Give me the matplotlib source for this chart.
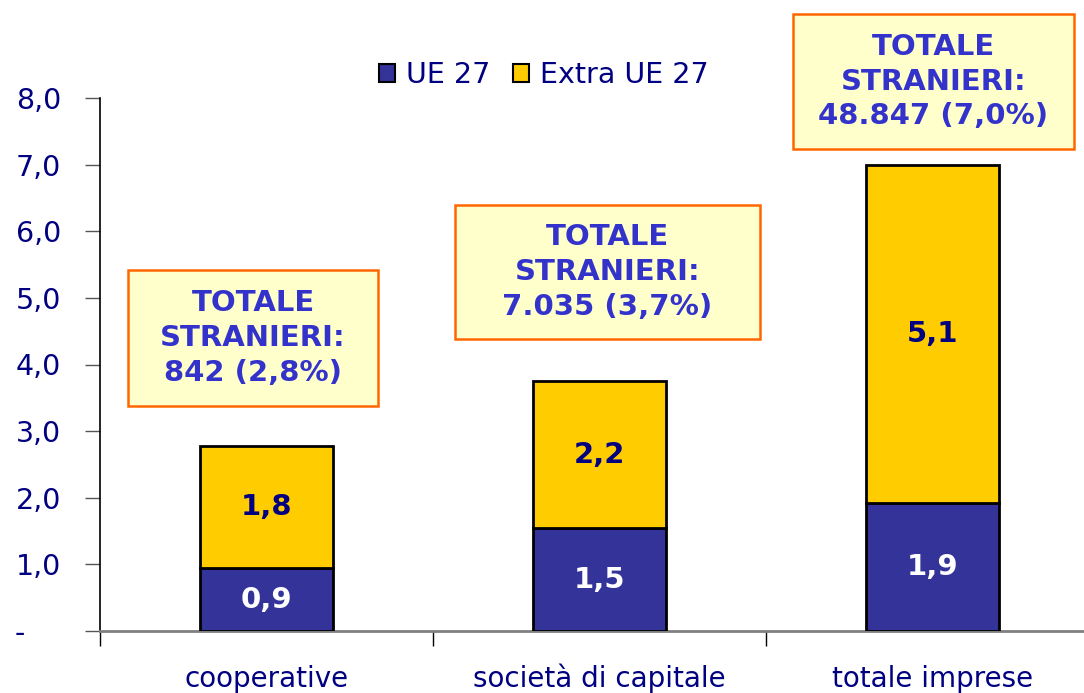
import matplotlib
matplotlib.use("Agg")
import matplotlib.pyplot as plt
from matplotlib.patches import Patch, Rectangle

categories = ["cooperative", "società di capitale", "totale imprese"]
ue27 = [0.94, 1.54, 1.92]
extra_ue27 = [1.84, 2.21, 5.08]
box_texts = ["TOTALE\nSTRANIERI:\n842 (2,8%)",
             "TOTALE\nSTRANIERI:\n7.035 (3,7%)",
             "TOTALE\nSTRANIERI:\n48.847 (7,0%)"]
yticks = [0, 1, 2, 3, 4, 5, 6, 7, 8]
ytick_labels = ["-    ", "1,0", "2,0", "3,0", "4,0", "5,0", "6,0", "7,0", "8,0"]

NAVY = "#000080"
BLUE = "#333399"
GOLD = "#FFCC00"
BOXTXT = "#3333CC"

plt.rcParams['font.family'] = ['DejaVu Sans']
fig = plt.figure(figsize=(10.84, 6.93), dpi=100)
W, H = 1084, 693
# axes: x from 100 px to 1099 px, y from 631 (0) to 98 (8)
ax = fig.add_axes([100 / W, (H - 631) / H, 999 / W, 533 / H])
x = list(range(len(categories)))
bw = 0.4
b1 = ax.bar(x, ue27, bw, color=BLUE, edgecolor="black", linewidth=2, zorder=3)
b2 = ax.bar(x, extra_ue27, bw, bottom=ue27, color=GOLD, edgecolor="black",
            linewidth=2, zorder=3)

for i in x:
    ax.text(i, ue27[i] / 2, f"{ue27[i]:.1f}".replace(".", ","), ha="center",
            va="center", color="white", fontsize=21, fontweight="bold", zorder=4)
    ax.text(i, ue27[i] + extra_ue27[i] / 2, f"{extra_ue27[i]:.1f}".replace(".", ","),
            ha="center", va="center", color=NAVY, fontsize=21, fontweight="bold",
            zorder=4)

ax.set_xlim(-0.5, 2.5)
ax.set_ylim(0, 8)
ax.set_yticks(yticks)
ax.set_yticklabels(ytick_labels, color=NAVY, fontsize=20.5)
ax.tick_params(axis="y", length=11, width=1, color="#555555", pad=17)
ax.set_xticks([-0.5, 0.5, 1.5], minor=True)
ax.set_xticks(x)
ax.set_xticklabels(categories, color=NAVY, fontsize=20, va="baseline")
ax.tick_params(axis="x", which="major", length=0, pad=40)
ax.tick_params(axis="x", which="minor", length=11, width=1, color="black")
for s in ["top", "right"]:
    ax.spines[s].set_visible(False)
ax.spines["left"].set_color("black")
ax.spines["left"].set_linewidth(1.2)
ax.spines["bottom"].set_color("#808080")
ax.spines["bottom"].set_linewidth(2)

# annotation boxes: (left, top, right, bottom) in pixels
box_px = [(128, 270, 378, 406), (455, 205, 760, 339), (793, 14, 1074, 149)]
for (l, t, r, b), txt in zip(box_px, box_texts):
    fig.patches.append(Rectangle((l / W, 1 - b / H), (r - l) / W, (b - t) / H,
                                 transform=fig.transFigure, facecolor="#FFFFCC",
                                 edgecolor="#FF6600", linewidth=1.8, zorder=5))
    fig.text((l + r) / 2 / W, 1 - (t + b) / 2 / H, txt, ha="center", va="center",
             color=BOXTXT, fontsize=21, fontweight="bold", linespacing=1.3,
             zorder=6)

handles = [Patch(facecolor=BLUE, edgecolor="black", linewidth=1.5, label="UE 27"),
           Patch(facecolor=GOLD, edgecolor="black", linewidth=1.5, label="Extra UE 27")]
leg = fig.legend(handles=handles, loc="center", bbox_to_anchor=(544 / W, 1 - 75 / H),
                 ncol=2, frameon=False, fontsize=20.5, handlelength=0.55,
                 handleheight=0.55, handletextpad=0.4, columnspacing=0.8)
for t in leg.get_texts():
    t.set_color(NAVY)

fig.savefig("out.png", dpi=100)
